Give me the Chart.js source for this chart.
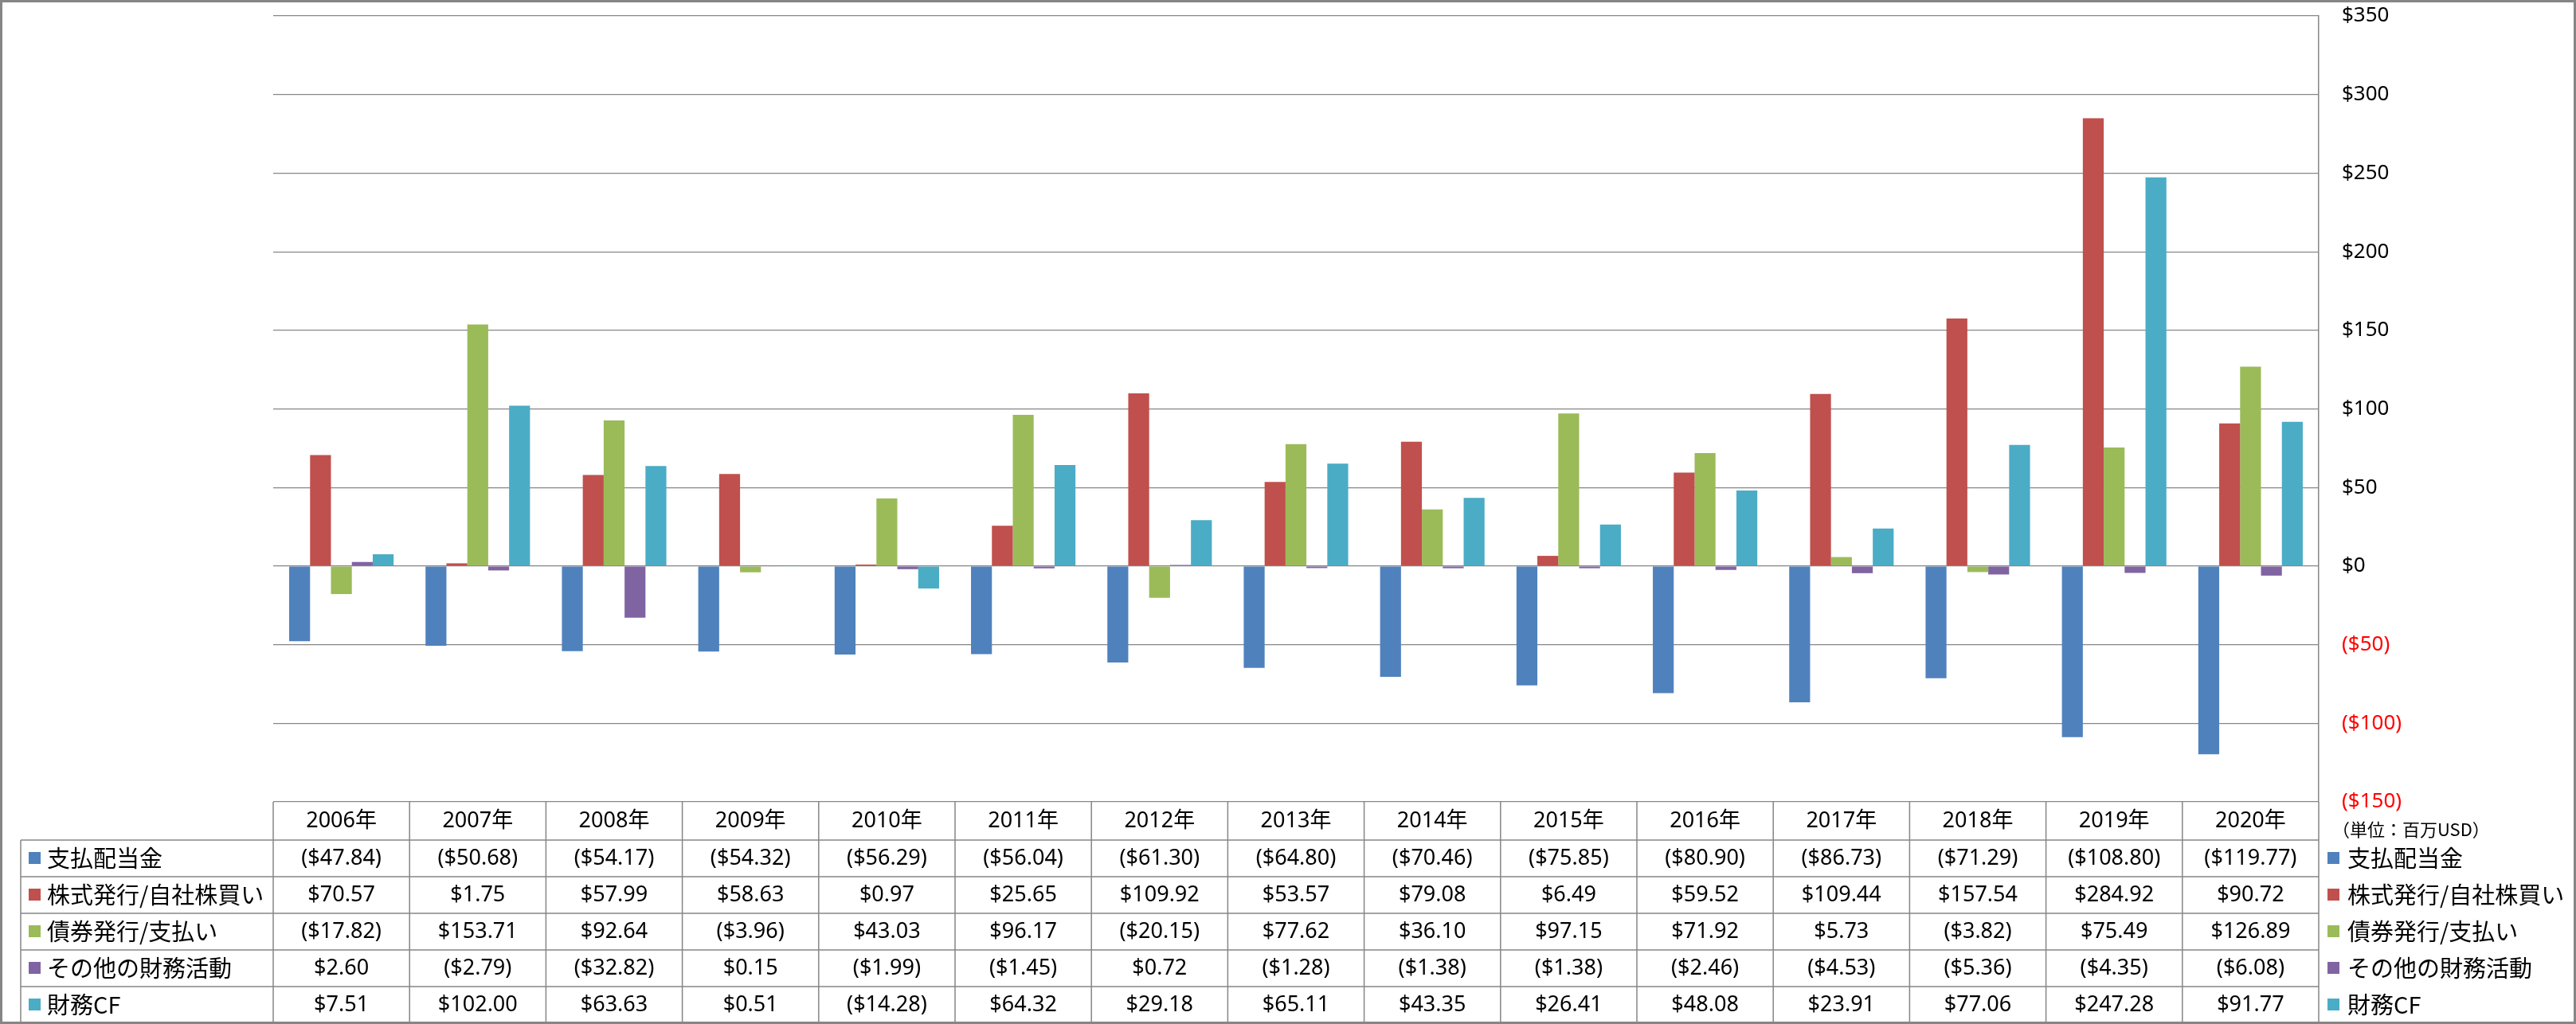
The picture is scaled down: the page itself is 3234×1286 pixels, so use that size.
<!DOCTYPE html>
<html lang="ja">
<head>
<meta charset="utf-8">
<title>財務CF</title>
<script src="https://cdn.jsdelivr.net/npm/chart.js@4/dist/chart.umd.min.js"></script>
<style>
  html, body { margin: 0; padding: 0; background: #fff; }
  canvas { display: block; }
</style>
</head>
<body>
<canvas id="cfChart" width="3234" height="1286"></canvas>
<script>
// ── DATA ──────────────────────────────────────
const years = ['2006年','2007年','2008年','2009年','2010年','2011年','2012年','2013年','2014年','2015年','2016年','2017年','2018年','2019年','2020年'];
const dividends = [-47.84, -50.68, -54.17, -54.32, -56.29, -56.04, -61.30, -64.80, -70.46, -75.85, -80.90, -86.73, -71.29, -108.80, -119.77];
const equity    = [70.57, 1.75, 57.99, 58.63, 0.97, 25.65, 109.92, 53.57, 79.08, 6.49, 59.52, 109.44, 157.54, 284.92, 90.72];
const debt      = [-17.82, 153.71, 92.64, -3.96, 43.03, 96.17, -20.15, 77.62, 36.10, 97.15, 71.92, 5.73, -3.82, 75.49, 126.89];
const other     = [2.60, -2.79, -32.82, 0.15, -1.99, -1.45, 0.72, -1.28, -1.38, -1.38, -2.46, -4.53, -5.36, -4.35, -6.08];
const financeCF = [7.51, 102.00, 63.63, 0.51, -14.28, 64.32, 29.18, 65.11, 43.35, 26.41, 48.08, 23.91, 77.06, 247.28, 91.77];

const seriesNames  = ['支払配当金', '株式発行/自社株買い', '債券発行/支払い', 'その他の財務活動', '財務CF'];
const seriesValues = [dividends, equity, debt, other, financeCF];
const seriesColors = ['#4F81BD', '#C0504D', '#9BBB59', '#8064A2', '#4BACC6'];
const unitLabel = '（単位：百万USD）';

const GRID = '#868686';
const CJK = '"Noto Sans CJK JP", "Noto Sans", sans-serif';
const NUM = '"Noto Sans", "Noto Sans CJK JP", sans-serif';

const fmtMoney = v => v < 0 ? `($${Math.abs(v).toFixed(2)})` : `$${v.toFixed(2)}`;

// ── TABLE + LEGEND + FRAME ────────────────────
const dataTable = {
    id: 'dataTable',
    afterDraw(chart) {
        const { ctx, chartArea: ca, scales: { x } } = chart;
        const catW = (ca.right - ca.left) / years.length;
        const top = ca.bottom, headH = 48, rowH = 46;
        const bottom = 1284, labelLeft = 26;
        ctx.save();
        ctx.strokeStyle = GRID;
        ctx.lineWidth = 1.5;

        // horizontal lines
        ctx.beginPath();
        for (let r = 0; r < seriesNames.length; r++) {
            const y = top + headH + r * rowH;
            ctx.moveTo(labelLeft, y); ctx.lineTo(ca.right, y);
        }
        // vertical lines
        for (let i = 0; i <= years.length; i++) {
            const xx = ca.left + i * catW;
            ctx.moveTo(xx, top); ctx.lineTo(xx, bottom);
        }
        ctx.moveTo(labelLeft, top + headH); ctx.lineTo(labelLeft, bottom);
        ctx.stroke();

        ctx.fillStyle = '#000';
        ctx.textAlign = 'center';
        ctx.textBaseline = 'middle';

        // header
        ctx.font = `27px ${NUM}`;
        years.forEach((yr, i) => ctx.fillText(yr, x.getPixelForValue(i), top + headH / 2));

        // rows
        seriesValues.forEach((vals, r) => {
            const cy = top + headH + r * rowH + rowH / 2;
            ctx.font = `27px ${NUM}`;
            ctx.fillStyle = '#000';
            ctx.textAlign = 'center';
            vals.forEach((v, i) => ctx.fillText(fmtMoney(v), x.getPixelForValue(i), cy));

            // left key
            ctx.fillStyle = seriesColors[r];
            ctx.fillRect(36, cy - 8, 15, 15);
            ctx.fillStyle = '#000';
            ctx.textAlign = 'left';
            ctx.font = `29px ${CJK}`;
            ctx.fillText(seriesNames[r], 59, cy);

            // right legend
            ctx.fillStyle = seriesColors[r];
            ctx.fillRect(2922, cy - 8, 15, 15);
            ctx.fillStyle = '#000';
            ctx.fillText(seriesNames[r], 2947, cy);
        });

        // unit note
        ctx.font = `22px ${CJK}`;
        ctx.fillText(unitLabel, 2928, 1042);

        // outer frame
        ctx.lineWidth = 3;
        ctx.strokeRect(1.5, 1.5, chart.width - 3, chart.height - 3);
        ctx.restore();
    }
};

// ── CHART ─────────────────────────────────────
new Chart(document.getElementById('cfChart').getContext('2d'), {
    type: 'bar',
    data: {
        labels: years,
        datasets: seriesNames.map((name, i) => ({
            label: name,
            data: seriesValues[i],
            backgroundColor: seriesColors[i],
            borderWidth: 0,
            categoryPercentage: 0.766,
            barPercentage: 1
        }))
    },
    options: {
        responsive: false,
        devicePixelRatio: 1,
        animation: false,
        layout: { padding: { left: 343, top: 20, right: 0, bottom: 279 } },
        plugins: {
            legend: { display: false },
            tooltip: { enabled: false }
        },
        scales: {
            x: { display: false },
            y: {
                position: 'right',
                min: -150,
                max: 350,
                afterFit: s => { s.width = 323; s.paddingTop = 0; s.paddingBottom = 0; },
                border: { display: true, color: GRID, width: 1.5 },
                grid: { color: GRID, lineWidth: 1.2, drawTicks: false },
                ticks: {
                    stepSize: 50,
                    padding: 29,
                    font: { family: NUM, size: 26 },
                    color: c => c.tick && c.tick.value < 0 ? '#FF0000' : '#000',
                    callback: v => v < 0 ? `($${-v})` : `$${v}`
                }
            }
        }
    },
    plugins: [dataTable]
});
</script>
</body>
</html>
